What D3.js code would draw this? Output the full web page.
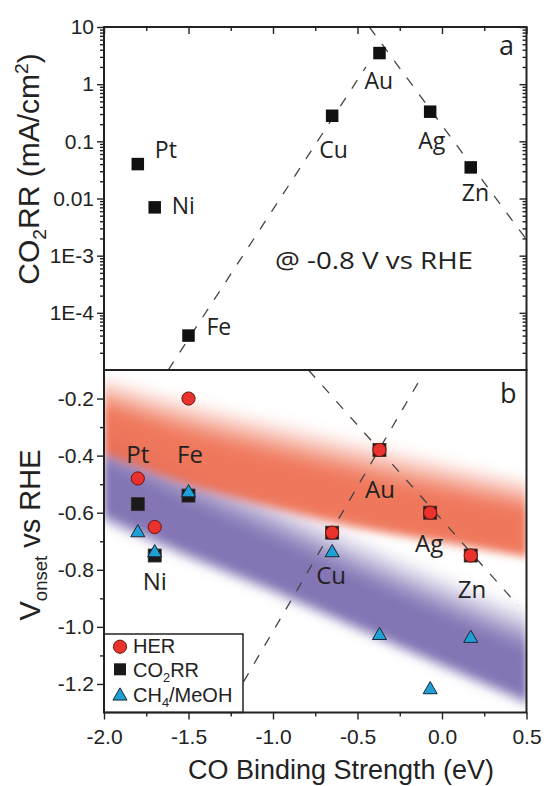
<!DOCTYPE html>
<html>
<head>
<meta charset="utf-8">
<script src="https://cdn.jsdelivr.net/npm/d3@7"></script>
<style>
  body { margin: 0; background: #fff; }
  svg { display: block; }
</style>
</head>
<body>
<svg id="fig" width="544" height="786"></svg>
<script>
// ---- data ----
const metals      = ["Pt", "Ni", "Fe", "Cu", "Au", "Ag", "Zn"];
const coBinding   = [-1.80, -1.70, -1.50, -0.65, -0.37, -0.07, 0.17];      // eV
const co2rrAt08   = [0.04, 0.007, 4e-5, 0.28, 3.5, 0.33, 0.035];          // mA/cm2 at -0.8 V
const herOnset    = [-0.48, -0.65, -0.20, -0.67, -0.38, -0.60, -0.75];     // V vs RHE
const co2rrOnset  = [-0.57, -0.75, -0.54, -0.67, -0.38, -0.60, -0.75];
const ch4Onset    = [-0.67, -0.74, -0.53, -0.74, -1.03, -1.22, -1.04];

// volcano guide lines (panel a: log current, panel b: onset potential)
const volcanoA_left  = [[-1.62, 1e-5], [-0.45, 2.0]];
const volcanoA_right = [[-0.43, 10], [0.50, 0.0019]];
const volcanoB_left  = [[-1.30, -1.32], [-0.13, -0.133]];
const volcanoB_right = [[-0.79, -0.10], [0.45, -0.925]];

// shaded trend bands in panel b
const bandE         = [-2.0, -1.5, -1.0, -0.5, 0.0, 0.5];
const herBandTop    = [-0.09, -0.17, -0.24, -0.31, -0.38, -0.45];
const herBandBottom = [-0.41, -0.52, -0.60, -0.67, -0.72, -0.77];
const ch4BandTop    = [-0.22, -0.37, -0.51, -0.65, -0.78, -0.90];
const ch4BandBottom = [-0.66, -0.79, -0.91, -1.04, -1.17, -1.30];

// tick labels
const xTicks         = [-2.0, -1.5, -1.0, -0.5, 0.0, 0.5];
const xTickLabels    = ["-2.0", "-1.5", "-1.0", "-0.5", "0.0", "0.5"];
const yTopTicks      = [10, 1, 0.1, 0.01, 1e-3, 1e-4];
const yTopTickLabels = ["10", "1", "0.1", "0.01", "1E-3", "1E-4"];
const yBotTicks      = [-0.2, -0.4, -0.6, -0.8, -1.0, -1.2];
const yBotTickLabels = ["-0.2", "-0.4", "-0.6", "-0.8", "-1.0", "-1.2"];

// ---- layout ----
const L = 104, R = 526.5, T1 = 27, B1 = 370, T2 = 370, B2 = 712.5;
const INK = "#222";
const SANS = "'Liberation Sans', Arial, sans-serif";
const LABEL = "'Open Sans', 'Noto Sans', sans-serif";

const x    = d3.scaleLinear().domain([-2, 0.5]).range([L, R]);
const yTop = d3.scaleLog().domain([1e-5, 10]).range([B1, T1]);
const yBot = d3.scaleLinear().domain([-1.3, -0.1]).range([B2, T2]);

const svg  = d3.select("#fig");
const defs = svg.append("defs");

defs.append("clipPath").attr("id", "clipA")
  .append("rect").attr("x", L).attr("y", T1).attr("width", R - L).attr("height", B1 - T1);
defs.append("clipPath").attr("id", "clipB")
  .append("rect").attr("x", L).attr("y", T2).attr("width", R - L).attr("height", B2 - T2);
defs.append("filter").attr("id", "soft")
  .attr("x", "-5%").attr("y", "-20%").attr("width", "110%").attr("height", "140%")
  .append("feGaussianBlur").attr("stdDeviation", "3.5 3.5");

// text with sub/superscripts: parts = [{t, sub|sup}]
function richText(sel, parts, size) {
  let shift = 0;
  parts.forEach(p => {
    const ts = sel.append("tspan").text(p.t);
    let target = 0;
    if (p.sub) target = size * 0.24;
    if (p.sup) target = -size * 0.36;
    if (p.sub || p.sup) ts.attr("font-size", size * 0.64);
    if (target !== shift) { ts.attr("dy", target - shift); shift = target; }
  });
}

const ss = u => u * u * (3 - 2 * u);
const herProfile = t => t < 0.55 ? ss(t / 0.55) : (t < 0.9 ? 1 : 1 - (t - 0.9) / 0.1);
const ch4Profile = t => t < 0.55 ? ss(t / 0.55) : (t < 0.82 ? 1 : 1 - ss((t - 0.82) / 0.18));

// a band is drawn as thin strips across its width, each with its own opacity
function drawBand(g, top, bot, color, maxOp, profile) {
  const N = 80;
  for (let i = 0; i < N; i++) {
    const t0 = i / N, t1 = (i + 1) / N;
    const area = d3.area()
      .x((d, j) => x(bandE[j]))
      .y0((d, j) => yBot(top[j] + (bot[j] - top[j]) * t0))
      .y1((d, j) => yBot(top[j] + (bot[j] - top[j]) * t1))
      .curve(d3.curveMonotoneX);
    g.append("path").attr("d", area(bandE))
      .attr("fill", color)
      .attr("shape-rendering", "crispEdges")
      .attr("fill-opacity", maxOp * profile((t0 + t1) / 2));
  }
}

const line = d3.line();

// ================= panel a =================
const gA = svg.append("g");
const gAclip = gA.append("g").attr("clip-path", "url(#clipA)");

[volcanoA_left, volcanoA_right].forEach(seg => {
  gAclip.append("path")
    .attr("d", line(seg.map(p => [x(p[0]), yTop(p[1])])))
    .attr("fill", "none").attr("stroke", "#444").attr("stroke-width", 1.3)
    .attr("stroke-dasharray", "10,11");
});

const sqA = 12.5;
gA.selectAll("rect.pt").data(metals).join("rect")
  .attr("x", (d, i) => x(coBinding[i]) - sqA / 2)
  .attr("y", (d, i) => yTop(co2rrAt08[i]) - sqA / 2)
  .attr("width", sqA).attr("height", sqA).attr("fill", "#111");

const labelOffA = { Pt: [17, -6], Ni: [17, 7], Fe: [18, -1], Cu: [-13, 42], Au: [-15, 36], Ag: [-12, 37], Zn: [-9, 34] };
gA.selectAll("text.m").data(metals).join("text")
  .attr("x", (d, i) => x(coBinding[i]) + labelOffA[d][0])
  .attr("y", (d, i) => yTop(co2rrAt08[i]) + labelOffA[d][1])
  .attr("font-family", LABEL).attr("font-size", 23).attr("fill", INK)
  .text(d => d);

gA.append("text").attr("x", 275).attr("y", 269)
  .attr("font-family", LABEL).attr("font-size", 23).attr("fill", INK)
  .attr("textLength", 198).attr("lengthAdjust", "spacingAndGlyphs")
  .text("@ -0.8 V vs RHE");

gA.append("text").attr("x", 499).attr("y", 55)
  .attr("font-family", LABEL).attr("font-size", 27).attr("fill", INK).text("a");

// axes of panel a
function styleAxis(g, size) {
  g.attr("font-size", size).attr("font-family", SANS).attr("color", INK);
  g.select(".domain").remove();
  g.selectAll(".tick line").attr("stroke-width", 1.4);
  g.selectAll(".tick text").attr("fill", INK);
}
const yTopMinor = [];
for (let k = -5; k < 1; k++) for (let m = 2; m < 10; m++) yTopMinor.push(m * Math.pow(10, k));

gA.append("g").attr("transform", `translate(${L},0)`)
  .call(d3.axisLeft(yTop).tickValues(yTopTicks).tickFormat((d, i) => yTopTickLabels[i]).tickSize(7).tickPadding(3))
  .call(g => styleAxis(g, 21));
gA.append("g").attr("transform", `translate(${L},0)`)
  .call(d3.axisLeft(yTop).tickValues(yTopMinor).tickFormat("").tickSize(4))
  .call(g => styleAxis(g, 21));
gA.append("g").attr("transform", `translate(${R},0)`)
  .call(d3.axisRight(yTop).tickValues(yTopTicks).tickFormat("").tickSize(-7))
  .call(g => styleAxis(g, 21));
gA.append("g").attr("transform", `translate(${R},0)`)
  .call(d3.axisRight(yTop).tickValues(yTopMinor).tickFormat("").tickSize(-4))
  .call(g => styleAxis(g, 21));
const xMinor = [-1.75, -1.25, -0.75, -0.25, 0.25];
gA.append("g").attr("transform", `translate(0,${T1})`)
  .call(d3.axisTop(x).tickValues(xTicks).tickFormat("").tickSize(-7))
  .call(g => styleAxis(g, 21));
gA.append("g").attr("transform", `translate(0,${T1})`)
  .call(d3.axisTop(x).tickValues(xMinor).tickFormat("").tickSize(-4))
  .call(g => styleAxis(g, 21));

gA.append("rect").attr("x", L).attr("y", T1).attr("width", R - L).attr("height", B1 - T1)
  .attr("fill", "none").attr("stroke", INK).attr("stroke-width", 2);

// y title panel a
richText(
  svg.append("text").attr("transform", "translate(38.5,169) rotate(-90)")
    .attr("text-anchor", "middle").attr("font-family", SANS).attr("font-size", 30).attr("fill", INK),
  [{ t: "CO" }, { t: "2", sub: true }, { t: "RR (mA/cm" }, { t: "2", sup: true }, { t: ")" }], 30);

// ================= panel b =================
const gB = svg.append("g");
const gBclip = gB.append("g").attr("clip-path", "url(#clipB)");
const gBands = gBclip.append("g").attr("filter", "url(#soft)");
drawBand(gBands, ch4BandTop, ch4BandBottom, "#7262aa", 0.88, ch4Profile);
drawBand(gBands, herBandTop, herBandBottom, "#ee6e50", 0.93, herProfile);

[volcanoB_left, volcanoB_right].forEach(seg => {
  gBclip.append("path")
    .attr("d", line(seg.map(p => [x(p[0]), yBot(p[1])])))
    .attr("fill", "none").attr("stroke", "#444").attr("stroke-width", 1.3)
    .attr("stroke-dasharray", "10,11");
});

const sqB = 13, rB = 6.6;
const tri = d3.symbol().type(d3.symbolTriangle).size(86);

gB.selectAll("rect.co2").data(metals).join("rect")
  .attr("x", (d, i) => x(coBinding[i]) - sqB / 2)
  .attr("y", (d, i) => yBot(co2rrOnset[i]) - sqB / 2)
  .attr("width", sqB).attr("height", sqB)
  .attr("fill", "#1a1a1a").attr("stroke", "#3a2a2a").attr("stroke-width", 0.8);

gB.selectAll("circle.her").data(metals).join("circle")
  .attr("cx", (d, i) => x(coBinding[i]))
  .attr("cy", (d, i) => yBot(herOnset[i]))
  .attr("r", rB).attr("fill", "#e8322b").attr("stroke", "#6a1711").attr("stroke-width", 1);

gB.selectAll("path.ch4").data(metals).join("path")
  .attr("transform", (d, i) => `translate(${x(coBinding[i])},${yBot(ch4Onset[i])})`)
  .attr("d", tri).attr("fill", "#1e9fd6").attr("stroke", "#1b2733").attr("stroke-width", 1);

const labelOffB = { Pt: [0, -15], Ni: [0, 63], Fe: [1.5, 64.5], Cu: [-1, 51.5], Au: [0.5, 48.5], Ag: [-1, 39.5], Zn: [1.3, 42.5] };
gB.selectAll("text.m").data(metals).join("text")
  .attr("x", (d, i) => x(coBinding[i]) + labelOffB[d][0])
  .attr("y", (d, i) => yBot(herOnset[i]) + labelOffB[d][1])
  .attr("text-anchor", "middle")
  .attr("font-family", LABEL).attr("font-size", 24).attr("fill", INK)
  .text(d => d);

gB.append("text").attr("x", 500).attr("y", 403)
  .attr("font-family", LABEL).attr("font-size", 27).attr("fill", INK).text("b");

// legend
const lg = gB.append("g");
lg.append("rect").attr("x", L).attr("y", 634).attr("width", 139).attr("height", B2 - 634)
  .attr("fill", "#fff").attr("stroke", INK).attr("stroke-width", 1.5);
lg.append("circle").attr("cx", 120).attr("cy", 646.7).attr("r", rB)
  .attr("fill", "#e8322b").attr("stroke", "#6a1711").attr("stroke-width", 1);
lg.append("rect").attr("x", 120 - 6).attr("y", 669.3 - 6).attr("width", 12).attr("height", 12).attr("fill", "#1a1a1a");
lg.append("path").attr("transform", "translate(120,696)").attr("d", tri)
  .attr("fill", "#1e9fd6").attr("stroke", "#1b2733").attr("stroke-width", 1);
const lgText = (yy, parts) => richText(
  lg.append("text").attr("x", 133).attr("y", yy).attr("font-family", SANS).attr("font-size", 20).attr("fill", INK),
  parts, 20);
lgText(653.3, [{ t: "HER" }]);
lgText(676.7, [{ t: "CO" }, { t: "2", sub: true }, { t: "RR" }]);
lgText(701.7, [{ t: "CH" }, { t: "4", sub: true }, { t: "/MeOH" }]);

// axes of panel b
const yBotMinor = [-0.3, -0.5, -0.7, -0.9, -1.1];
gB.append("g").attr("transform", `translate(${L},0)`)
  .call(d3.axisLeft(yBot).tickValues(yBotTicks).tickFormat((d, i) => yBotTickLabels[i]).tickSize(7).tickPadding(3))
  .call(g => styleAxis(g, 21));
gB.append("g").attr("transform", `translate(${L},0)`)
  .call(d3.axisLeft(yBot).tickValues(yBotMinor).tickFormat("").tickSize(4))
  .call(g => styleAxis(g, 21));
gB.append("g").attr("transform", `translate(0,${B2})`)
  .call(d3.axisBottom(x).tickValues(xTicks).tickFormat((d, i) => xTickLabels[i]).tickSize(7).tickPadding(9.5))
  .call(g => styleAxis(g, 21));
gB.append("g").attr("transform", `translate(0,${B2})`)
  .call(d3.axisBottom(x).tickValues(xMinor).tickFormat("").tickSize(4))
  .call(g => styleAxis(g, 21));

gB.append("rect").attr("x", L).attr("y", T2).attr("width", R - L).attr("height", B2 - T2)
  .attr("fill", "none").attr("stroke", INK).attr("stroke-width", 2);

// y title panel b
richText(
  svg.append("text").attr("transform", "translate(40,535) rotate(-90)")
    .attr("text-anchor", "middle").attr("font-family", SANS).attr("font-size", 29).attr("fill", INK),
  [{ t: "V" }, { t: "onset", sub: true }, { t: " vs RHE" }], 29);

// x title
svg.append("text").attr("x", 341).attr("y", 779)
  .attr("text-anchor", "middle").attr("font-family", SANS).attr("font-size", 27).attr("fill", INK)
  .attr("textLength", 306).attr("lengthAdjust", "spacingAndGlyphs")
  .text("CO Binding Strength (eV)");
</script>
</body>
</html>
